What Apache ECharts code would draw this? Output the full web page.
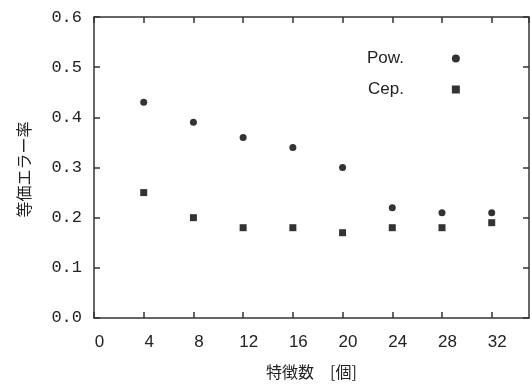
<!DOCTYPE html>
<html>
<head>
<meta charset="utf-8">
<script src="https://cdn.jsdelivr.net/npm/echarts@6/dist/echarts.min.js"></script>
<style>
  html, body { margin: 0; padding: 0; background: #fff; }
  #chart { width: 532px; height: 385px; }
</style>
</head>
<body>
<div id="chart"></div>
<script>
// feature counts and equal error rates
var features = [4, 8, 12, 16, 20, 24, 28, 32];
var powEER = [0.43, 0.39, 0.36, 0.34, 0.30, 0.22, 0.21, 0.21];
var cepEER = [0.25, 0.20, 0.18, 0.18, 0.17, 0.18, 0.18, 0.19];

var axisColor = '#333';
var numFont = '"Liberation Sans Narrow", "Liberation Sans", sans-serif';
var jpFont = '"Noto Sans CJK JP", sans-serif';

function pairs(xs, ys) {
  return xs.map(function (x, i) { return [x, ys[i]]; });
}

function frameAxis(extra) {
  var base = {
    type: 'value',
    axisLine: { show: true, onZero: false, lineStyle: { color: axisColor, width: 1.5 } },
    axisTick: { inside: true, length: 6, lineStyle: { color: axisColor, width: 1.5 } },
    splitLine: { show: false }
  };
  return Object.assign(base, extra);
}

var chart = echarts.init(document.getElementById('chart'));

var option = {
  animation: false,
  backgroundColor: '#fff',
  grid: { left: 94, right: 3, top: 17, bottom: 63 },
  legend: {
    orient: 'vertical',
    left: 362,
    top: 45,
    align: 'right',
    itemWidth: 8,
    itemHeight: 8,
    itemGap: 14,
    // padding on the right of the text leaves the wide gap before the marker
    textStyle: { fontFamily: numFont, fontSize: 17, color: '#222', padding: [0, 43, 0, 0] },
    data: ['Pow.', 'Cep.']
  },
  xAxis: [
    frameAxis({
      min: 0, max: 35, interval: 4,
      name: '特徴数　[個]', nameLocation: 'middle', nameGap: 46,
      nameTextStyle: { fontFamily: jpFont, fontSize: 16, color: '#222' },
      axisLabel: {
        fontFamily: numFont, fontSize: 17, color: '#222', margin: 16,
        padding: [0, 0, 0, 11], showMaxLabel: false
      }
    }),
    frameAxis({
      position: 'top', min: 0, max: 35, interval: 4,
      axisLabel: { show: false }
    })
  ],
  yAxis: [
    frameAxis({
      min: 0, max: 0.6, interval: 0.1,
      name: '等価エラー率', nameLocation: 'middle', nameGap: 62, nameRotate: 90,
      nameTextStyle: { fontFamily: jpFont, fontSize: 16, color: '#222', padding: [0, 4, 0, 0] },
      axisLabel: {
        fontFamily: '"Liberation Mono", monospace', fontSize: 17, color: '#222', margin: 12,
        formatter: function (v) { return v.toFixed(1); }
      }
    }),
    frameAxis({
      position: 'right', min: 0, max: 0.6, interval: 0.1,
      axisLabel: { show: false }
    })
  ],
  series: [
    {
      name: 'Pow.', type: 'scatter', symbol: 'circle', symbolSize: 7,
      itemStyle: { color: '#000' },
      data: pairs(features, powEER)
    },
    {
      name: 'Cep.', type: 'scatter', symbol: 'rect', symbolSize: 7,
      itemStyle: { color: '#000' },
      data: pairs(features, cepEER)
    }
  ]
};

chart.setOption(option);
</script>
</body>
</html>
